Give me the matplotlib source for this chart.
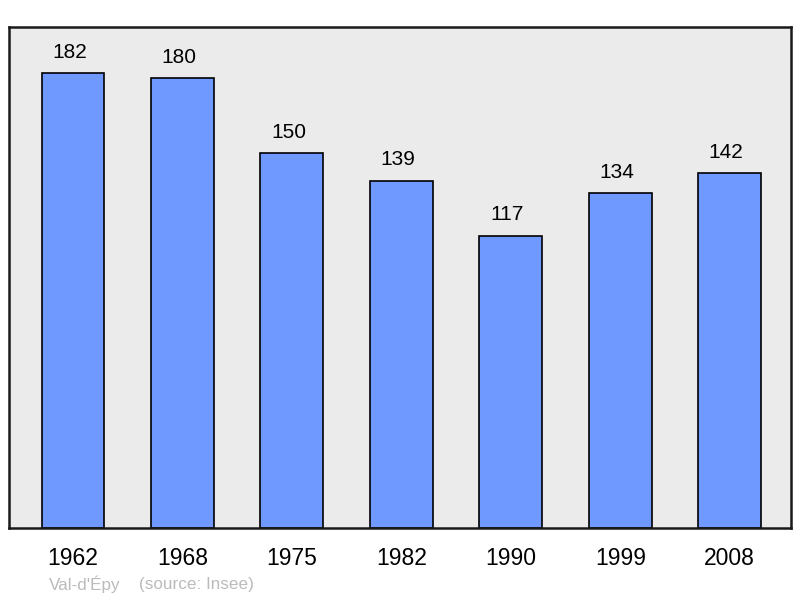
import matplotlib.pyplot as plt

years = ['1962', '1968', '1975', '1982', '1990', '1999', '2008']
population = [182, 180, 150, 139, 117, 134, 142]
place = "Val-d'Épy"
source = '(source: Insee)'

plt.rcParams['font.family'] = ['Liberation Sans', 'DejaVu Sans']

fig = plt.figure(figsize=(8.0, 5.98), dpi=100)
ax = fig.add_axes([9 / 800, 1 - 528 / 598, 782 / 800, 501 / 598])
ax.set_facecolor('#ebebeb')

x = list(range(len(years)))
ax.bar(x, population, width=0.575, color='#7099ff', edgecolor='black', linewidth=1.2, zorder=2)
for xi, v in zip(x, population):
    ax.annotate(str(v), (xi, v), xytext=(-2.5, 8), textcoords='offset points',
                ha='center', va='bottom', fontsize=15)

ax.set_xlim(-0.585, 6.56)
ax.set_ylim(0, 200.4)
ax.set_xticks(x)
ax.set_xticklabels(years, fontsize=16.5)
ax.tick_params(axis='x', length=0, pad=14)
ax.set_yticks([])
for s in ax.spines.values():
    s.set_linewidth(1.8)
    s.set_color('#1a1a1a')

fig.text(49 / 800, 1 - 584 / 598, place, color='#bbbbbb', fontsize=12.3, va='center')
fig.text(139 / 800, 1 - 584 / 598, source, color='#bbbbbb', fontsize=12.3, va='center')

fig.savefig('out.png', dpi=100, facecolor='white')
